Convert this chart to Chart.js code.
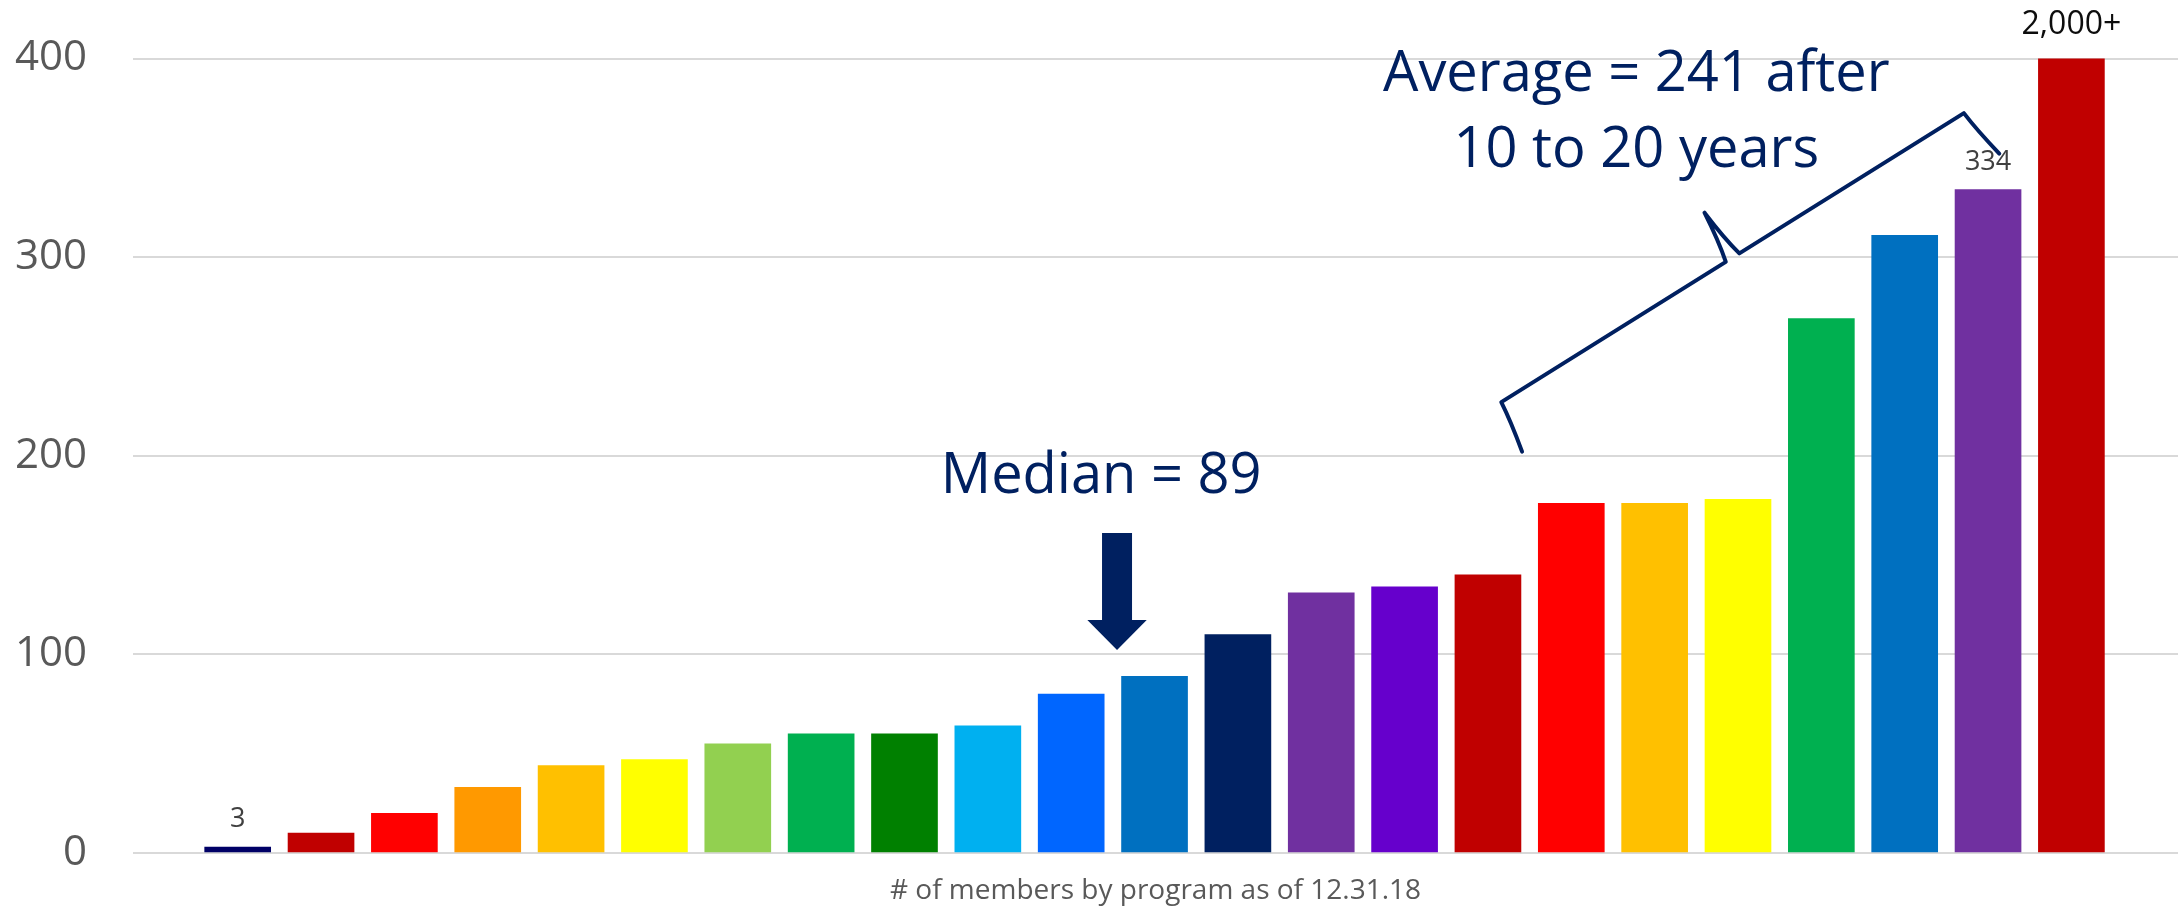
<!DOCTYPE html>
<html>
<head>
<meta charset="utf-8">
<title>Members by program</title>
<script src="https://cdn.jsdelivr.net/npm/chart.js@4.4.1/dist/chart.umd.min.js"></script>
<style>
  html, body { margin: 0; padding: 0; background: #fff; overflow: hidden; }
  #wrap { width: 2182px; height: 912px; }
  canvas { display: block; }
</style>
</head>
<body>
<div id="wrap"><canvas id="membersChart" width="2182" height="912"></canvas></div>
<script>
// Programs ranked by size, smallest first
const programRank = [1, 2, 3, 4, 5, 6, 7, 8, 9, 10, 11, 12, 13, 14, 15, 16, 17, 18, 19, 20, 21, 22, 23];
const members = [3, 10, 20, 33, 44, 47, 55, 60, 60, 64, 80, 89, 110, 131, 134, 140, 176, 176, 178, 269, 311, 334, 2000];
const barColors = [
  '#000066', '#C00000', '#FF0000', '#FF9900', '#FFC000', '#FFFF00', '#92D050', '#00B050',
  '#008000', '#00B0F0', '#0066FF', '#0070C0', '#002060', '#7030A0', '#6600CC', '#C00000',
  '#FF0000', '#FFC000', '#FFFF00', '#00B050', '#0070C0', '#7030A0', '#C00000'
];
const yTicks = [0, 100, 200, 300, 400];
const labelledRanks = [1, 22, 23];
const medianMembers = 89;
const averageMembers = 241;
const xTitle = '# of members by program as of 12.31.18';

const yMax = yTicks[yTicks.length - 1];
const navy = '#002060';

function valueLabel(v) {
  return v > yMax ? v.toLocaleString('en-US') + '+' : String(v);
}

// Curly brace whose spine runs from s to e, hooks bending to the right-hand side
function drawBrace(ctx, s, e, depth, splay) {
  const dx = e[0] - s[0], dy = e[1] - s[1];
  const len = Math.hypot(dx, dy);
  const ux = dx / len, uy = dy / len;
  const nx = -uy, ny = ux;
  const P = (a, b) => [s[0] + ux * a + nx * b, s[1] + uy * a + ny * b];
  const mid = len / 2;
  ctx.beginPath();
  ctx.moveTo(...P(-splay, depth));
  ctx.quadraticCurveTo(...P(-2, depth * 0.4), ...P(0, 0));
  ctx.lineTo(...P(mid - 8, 0));
  ctx.quadraticCurveTo(...P(mid - 3, -depth * 0.4), ...P(mid, -depth));
  ctx.quadraticCurveTo(...P(mid + 3, -depth * 0.4), ...P(mid + 8, 0));
  ctx.lineTo(...P(len, 0));
  ctx.quadraticCurveTo(...P(len + 2, depth * 0.4), ...P(len + splay, depth));
  ctx.stroke();
}

const annotations = {
  id: 'annotations',
  afterDatasetsDraw(chart) {
    const { ctx, chartArea, scales: { x, y } } = chart;
    const pt = (rank, v) => [x.getPixelForValue(rank), y.getPixelForValue(v)];
    const meta = chart.getDatasetMeta(0);
    ctx.save();
    ctx.textAlign = 'center';
    ctx.textBaseline = 'alphabetic';

    // value labels over a few bars
    labelledRanks.forEach(rank => {
      const i = programRank.indexOf(rank);
      const bar = meta.data[i];
      const capped = members[i] > yMax;
      const top = Math.max(bar.y, chartArea.top);
      ctx.font = (capped ? 32 : 27) + 'px "Open Sans"';
      ctx.fillStyle = capped ? '#0d0d0d' : '#404040';
      ctx.fillText(valueLabel(members[i]), bar.x, top - (capped ? 25 : 20));
    });

    // median callout
    ctx.fillStyle = navy;
    ctx.font = '56px "Open Sans"';
    ctx.fillText('Median = ' + medianMembers, ...pt(11.36, 181.4));

    const [ax, ay] = pt(11.55, 102.2);
    ctx.beginPath();
    ctx.moveTo(ax, ay);
    ctx.lineTo(ax - 29.7, ay - 30);
    ctx.lineTo(ax - 15, ay - 30);
    ctx.lineTo(ax - 15, ay - 117);
    ctx.lineTo(ax + 15, ay - 117);
    ctx.lineTo(ax + 15, ay - 30);
    ctx.lineTo(ax + 29.7, ay - 30);
    ctx.closePath();
    ctx.fill();

    // average callout with brace over the largest programs
    ctx.fillText('Average = ' + averageMembers + ' after', ...pt(17.78, 383.7));
    ctx.fillText('10 to 20 years', ...pt(17.78, 345.5));

    ctx.strokeStyle = navy;
    ctx.lineWidth = 4;
    ctx.lineJoin = 'round';
    ctx.lineCap = 'round';
    drawBrace(ctx, pt(16.16, 227.0), pt(21.71, 372.5), 53, 8.6);
    ctx.restore();
  }
};

Chart.defaults.font.family = '"Open Sans", sans-serif';

new Chart(document.getElementById('membersChart'), {
  type: 'bar',
  data: {
    datasets: [{
      data: programRank.map((r, i) => ({ x: r, y: members[i] })),
      backgroundColor: barColors,
      borderWidth: 0,
      barThickness: 66,
      clip: 0
    }]
  },
  options: {
    responsive: false,
    animation: false,
    layout: { padding: { top: 58.5, right: 4, bottom: 0, left: 0 } },
    plugins: {
      legend: { display: false },
      tooltip: { enabled: false }
    },
    scales: {
      x: {
        type: 'linear',
        offset: false,
        min: -0.256,
        max: 24.279,
        grid: { display: false, drawTicks: false, offset: false },
        border: { display: false },
        ticks: { display: false },
        title: {
          display: true,
          text: xTitle,
          color: '#595959',
          font: { size: 28 },
          padding: { top: 21.7, bottom: 3.7 }
        }
      },
      y: {
        min: 0,
        max: yMax,
        afterFit: scale => { scale.width = 133; },
        afterBuildTicks: scale => { scale.ticks = yTicks.map(v => ({ value: v })); },
        // invisible tick marks push the labels away from the plot
        grid: { color: '#D9D9D9', lineWidth: 2, drawTicks: true, tickLength: 46, tickColor: 'rgba(0,0,0,0)' },
        border: { display: false },
        ticks: { color: '#595959', font: { size: 42 }, padding: 0 }
      }
    }
  },
  plugins: [annotations]
});
</script>
</body>
</html>
